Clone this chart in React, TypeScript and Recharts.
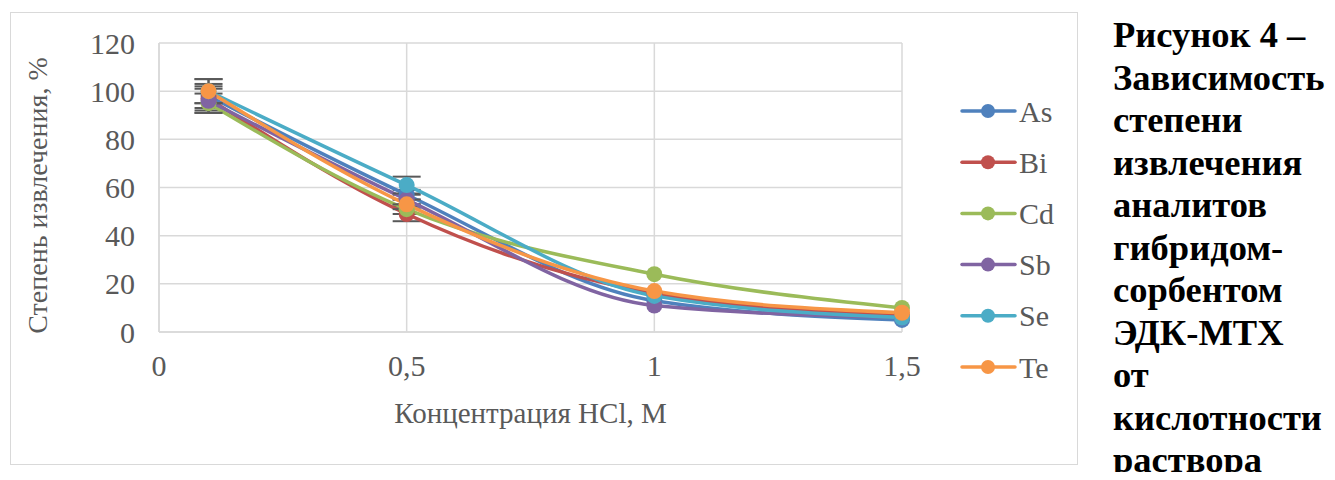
import React from 'react';
import { LineChart, Line, XAxis, YAxis, CartesianGrid, ErrorBar } from 'recharts';

const concentrations = [0.1, 0.5, 1, 1.5];
const seriesNames = ['As', 'Bi', 'Cd', 'Sb', 'Se', 'Te'];
const asValues = [98, 57, 13, 5];
const biValues = [97, 49, 16, 7];
const cdValues = [95, 51, 24, 10];
const sbValues = [96, 55, 11, 6];
const seValues = [100, 61, 15, 6];
const teValues = [100, 53, 17, 8];
const asErrors = [5, 2, 0, 0];
const biErrors = [5, 3, 0, 0];
const cdErrors = [4, 2, 0, 0];
const sbErrors = [5, 2, 0, 0];
const seErrors = [5, 3.5, 0, 0];
const teErrors = [5, 2, 0, 0];
const seriesColors = ['#4F81BD', '#C0504D', '#9BBB59', '#8064A2', '#4BACC6', '#F79646'];
const xTicks = [0, 0.5, 1, 1.5];
const yTicks = [0, 20, 40, 60, 80, 100, 120];
const xTitle = 'Концентрация HCl, М';
const yTitle = 'Степень извлечения, %';
const captionLines = [
  'Рисунок 4 –',
  'Зависимость',
  'степени',
  'извлечения',
  'аналитов',
  'гибридом-',
  'сорбентом',
  'ЭДК-МТХ',
  'от',
  'кислотности',
  'раствора',
];

const seriesValues = [asValues, biValues, cdValues, sbValues, seValues, teValues];
const seriesErrors = [asErrors, biErrors, cdErrors, sbErrors, seErrors, teErrors];

const data = concentrations.map((c, i) => {
  const row: Record<string, number> = { x: c };
  seriesNames.forEach((n, s) => {
    row[n] = seriesValues[s][i];
    row[n + 'Err'] = seriesErrors[s][i];
  });
  return row;
});

const FONT = "'Liberation Serif', 'Times New Roman', serif";
const TEXT = '#595959';
const GRID = '#d9d9d9';

const fmt = (v: number) => String(v).replace('.', ',');

export default function App() {
  return (
    <div style={{ position: 'relative', width: 1319, height: 464 }}>
      <div
        style={{
          position: 'absolute',
          left: 2,
          top: 4,
          width: 1068,
          height: 453,
          border: `1.5px solid ${GRID}`,
          boxSizing: 'border-box',
          background: '#fff',
        }}
      >
        <LineChart
          width={1065}
          height={450}
          data={data}
          margin={{ top: 30, right: 174, bottom: 0, left: 0 }}
        >
          <CartesianGrid stroke={GRID} strokeWidth={1.5} />
          <XAxis
            dataKey="x"
            type="number"
            domain={[0, 1.5]}
            ticks={xTicks}
            tickFormatter={fmt}
            height={131}
            tickLine={false}
            tickSize={0}
            tickMargin={23}
            axisLine={{ stroke: GRID, strokeWidth: 1.5 }}
            tick={{ fill: TEXT, fontSize: 30, fontFamily: FONT }}
            interval={0}
            label={{
              content: (p: any) => {
                const vb = p.viewBox;
                return (
                  <text
                    x={vb.x + vb.width / 2}
                    y={vb.y + 81}
                    textAnchor="middle"
                    dominantBaseline="central"
                    fill={TEXT}
                    fontSize={29}
                    fontFamily={FONT}
                  >
                    {xTitle}
                  </text>
                );
              },
            }}
          />
          <YAxis
            type="number"
            domain={[0, 120]}
            ticks={yTicks}
            width={148}
            tickLine={false}
            tickSize={0}
            tickMargin={24}
            axisLine={{ stroke: GRID, strokeWidth: 1.5 }}
            tick={{ fill: TEXT, fontSize: 30, fontFamily: FONT }}
            interval={0}
            label={{
              content: (p: any) => {
                const vb = p.viewBox;
                const cx = vb.x + 26;
                const cy = vb.y + vb.height / 2 + 8;
                return (
                  <text
                    x={cx}
                    y={cy}
                    transform={`rotate(-90, ${cx}, ${cy})`}
                    textAnchor="middle"
                    dominantBaseline="central"
                    fill={TEXT}
                    fontSize={28}
                    fontFamily={FONT}
                  >
                    {yTitle}
                  </text>
                );
              },
            }}
          />
          {seriesNames.map((n, s) => (
            <Line
              key={n}
              type="monotone"
              dataKey={n}
              stroke={seriesColors[s]}
              strokeWidth={3.5}
              dot={{ r: 8, fill: seriesColors[s], stroke: seriesColors[s], strokeWidth: 0 }}
              activeDot={false}
              isAnimationActive={false}
            >
              <ErrorBar
                dataKey={n + 'Err'}
                direction="y"
                width={14}
                stroke="#595959"
                strokeWidth={2}
                isAnimationActive={false}
              />
            </Line>
          ))}
        </LineChart>
      </div>
      <svg
        width={1319}
        height={472}
        style={{ position: 'absolute', left: 0, top: 0, pointerEvents: 'none', overflow: 'visible' }}
      >
        {seriesNames.map((n, s) => {
          const cy = 103 + s * 51.2;
          return (
            <g key={n}>
              <line x1={954} y1={cy} x2={1007} y2={cy} stroke={seriesColors[s]} strokeWidth={3.5} strokeLinecap="round" />
              <circle cx={980} cy={cy} r={7} fill={seriesColors[s]} />
              <text x={1011} y={cy} dominantBaseline="central" fontSize={30} fill={TEXT} fontFamily={FONT}>
                {n}
              </text>
            </g>
          );
        })}
        {captionLines.map((l, i) => (
          <text
            key={i}
            x={1105}
            y={39 + i * 42.5}
            fontSize={36.5}
            fontWeight="bold"
            fill="#000"
            fontFamily={FONT}
          >
            {l}
          </text>
        ))}
      </svg>
    </div>
  );
}
